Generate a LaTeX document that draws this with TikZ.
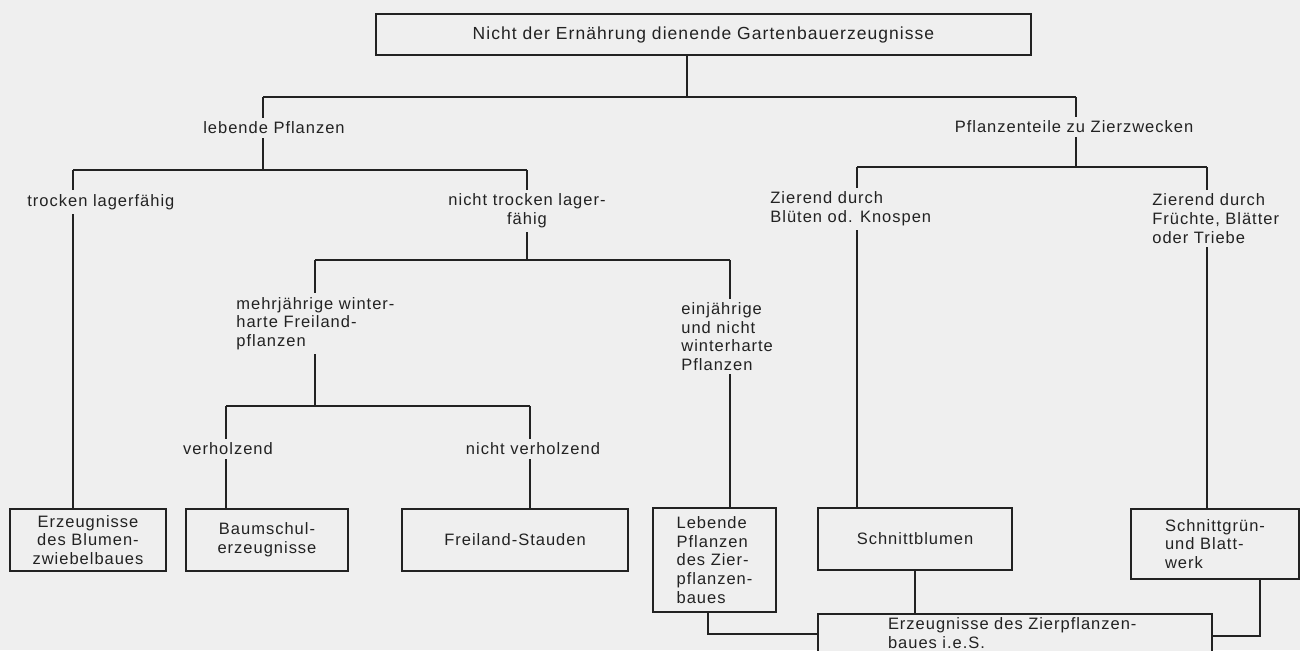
\documentclass[tikz,border=0pt]{standalone}
\usepackage{fontspec}
\setmainfont[LetterSpace=6]{Liberation Sans}
\definecolor{bg}{HTML}{EFEFEF}
\definecolor{ink}{HTML}{222222}
\begin{document}
\begin{tikzpicture}[x=0.5pt,y=-0.5pt,
  every node/.style={font=\fontsize{8.25}{9.3}\selectfont, text=ink},
  box/.style={draw=ink, line width=0.9pt, fill=bg, inner sep=0pt, align=center},
  lab/.style={fill=bg, inner sep=2pt},
  conn/.style={draw=ink, line width=0.9pt}]
\fill[bg] (0,0) rectangle (1300,650);
\useasboundingbox (0,0) rectangle (1300,650);

% boxes
\node[box, minimum width=327.5pt, minimum height=20.5pt, font=\fontsize{8.75}{10}\selectfont] (top) at (703.5,34.5) {Nicht der Ernährung dienende Gartenbauerzeugnisse};
\node[box, minimum width=78pt, minimum height=31pt] (b1) at (88,540) {Erzeugnisse\\des Blumen-\\zwiebelbaues};
\node[box, minimum width=81pt, minimum height=31pt] (b2) at (267,540) {Baumschul-\\erzeugnisse};
\node[box, minimum width=113pt, minimum height=31pt] (b3) at (515,540) {Freiland-Stauden};
\node[box, align=left, minimum width=61.5pt, minimum height=52pt] (b4) at (714.5,560) {Lebende\\Pflanzen\\des Zier-\\pflanzen-\\baues};
\node[box, minimum width=97pt, minimum height=31pt] (b5) at (915,539) {Schnittblumen};
\node[box, align=left, minimum width=84pt, minimum height=35pt] (b6) at (1215,544) {Schnittgrün-\\und Blatt-\\werk};
\node[box, align=left, anchor=north, text width=127pt, inner xsep=35pt, inner ysep=2pt] (b7) at (1015,613) {Erzeugnisse des Zierpflanzen-\\baues i.e.S.};

% junction coordinates
\coordinate (t0) at (687,97);
\coordinate (A) at (263,97);
\coordinate (B) at (1076,97);
\coordinate (A2) at (263,170);
\coordinate (L1) at (73,170);
\coordinate (L2) at (527,170);
\coordinate (M1) at (315,260);
\coordinate (M2) at (730,260);
\coordinate (N1) at (226,406);
\coordinate (N2) at (530,406);
\coordinate (R1) at (857,167);
\coordinate (R2) at (1207,167);
\coordinate (k4) at (708,634);
\coordinate (k6) at (1260,636);

% connectors
\draw[conn] (t0 |- top.south) -- (t0);
\draw[conn] (A) -- (B);
\draw[conn] (A) -- (A2);
\draw[conn] (L1) -- (L2);
\draw[conn] (L1) -- (L1 |- b1.north);
\draw[conn] (L2) -- (L2 |- M1);
\draw[conn] (M1) -- (M2);
\draw[conn] (M1) -- (M1 |- N1);
\draw[conn] (N1) -- (N2);
\draw[conn] (N1) -- (N1 |- b2.north);
\draw[conn] (N2) -- (N2 |- b3.north);
\draw[conn] (M2) -- (M2 |- b4.north);
\draw[conn] (B) -- (B |- R1);
\draw[conn] (R1) -- (R2);
\draw[conn] (R1) -- (R1 |- b5.north);
\draw[conn] (R2) -- (R2 |- b6.north);
\draw[conn] (b5.south) -- (b5.south |- b7.north);
\draw[conn] (k4 |- b4.south) -- (k4) -- (k4 -| b7.west);
\draw[conn] (k6 |- b6.south) -- (k6) -- (k6 -| b7.east);

% labels
\node[lab] (lp) at (274,128) {lebende Pflanzen};
\node[lab] (pz) at (1074,127) {Pflanzenteile zu Zierzwecken};
\node[lab, anchor=west] (tl) at (23,202) {trocken lagerfähig};
\node[lab, align=center] (ntl) at (527,211) {nicht trocken lager-\\fähig};
\node[lab, align=left, anchor=west] (mw) at (232,323.5) {mehrjährige winter-\\harte Freiland-\\pflanzen};
\node[lab, align=left, anchor=west] (ej) at (677,336.5) {einjährige\\und nicht\\winterharte\\Pflanzen};
\node[lab] (vh) at (228,449) {verholzend};
\node[lab] (nvh) at (533,449) {nicht verholzend};
\node[lab, align=left, anchor=west] (zb) at (766,208.5) {Zierend durch\\Blüten od. Knospen};
\node[lab, align=left, anchor=west] (zf) at (1148,218.5) {Zierend durch\\Früchte, Blätter\\oder Triebe};
\end{tikzpicture}
\end{document}
